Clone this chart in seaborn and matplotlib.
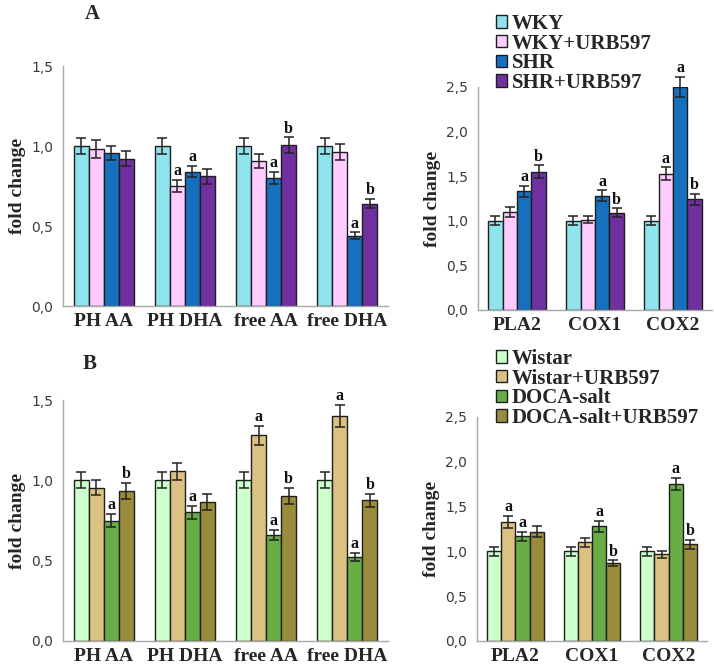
import numpy as np
import pandas as pd
import matplotlib
matplotlib.use("Agg")
import matplotlib.pyplot as plt
import seaborn as sns
from matplotlib.patches import Patch
from matplotlib.ticker import FuncFormatter, FixedLocator

# ---------------- data ----------------
lipid_cats = ["PH AA", "PH DHA", "free AA", "free DHA"]
enzyme_cats = ["PLA2", "COX1", "COX2"]

groups_A = ["WKY", "WKY+URB597", "SHR", "SHR+URB597"]
groups_B = ["Wistar", "Wistar+URB597", "DOCA-salt", "DOCA-salt+URB597"]

colors_A = ["#8EE3EC", "#FFCCFF", "#1670BE", "#7030A0"]
colors_B = ["#CCFFCC", "#DCC282", "#69AD47", "#998D3C"]

# Panel A, lipids (rows = groups, cols = lipid_cats)
A_lip_vals = [[1.00, 1.00, 1.00, 1.00],
              [0.98, 0.75, 0.905, 0.965],
              [0.955, 0.84, 0.80, 0.44],
              [0.92, 0.81, 1.005, 0.64]]
A_lip_errs = [[0.05, 0.05, 0.05, 0.05],
              [0.055, 0.04, 0.045, 0.05],
              [0.045, 0.035, 0.04, 0.02],
              [0.047, 0.045, 0.05, 0.03]]
A_lip_sig = [["", "", "", ""],
             ["", "a", "", ""],
             ["", "a", "a", "a"],
             ["", "", "b", "b"]]

# Panel A, enzymes
A_enz_vals = [[1.00, 1.00, 1.00],
              [1.10, 1.01, 1.53],
              [1.33, 1.28, 2.50],
              [1.55, 1.09, 1.24]]
A_enz_errs = [[0.05, 0.05, 0.05],
              [0.06, 0.04, 0.07],
              [0.06, 0.06, 0.11],
              [0.07, 0.05, 0.06]]
A_enz_sig = [["", "", ""],
             ["", "", "a"],
             ["a", "a", "a"],
             ["b", "b", "b"]]

# Panel B, lipids
B_lip_vals = [[1.00, 1.00, 1.00, 1.00],
              [0.955, 1.055, 1.28, 1.40],
              [0.75, 0.80, 0.66, 0.525],
              [0.935, 0.865, 0.905, 0.875]]
B_lip_errs = [[0.05, 0.05, 0.05, 0.05],
              [0.045, 0.05, 0.06, 0.07],
              [0.04, 0.04, 0.03, 0.025],
              [0.05, 0.05, 0.05, 0.04]]
B_lip_sig = [["", "", "", ""],
             ["", "", "a", "a"],
             ["a", "a", "a", "a"],
             ["b", "", "b", "b"]]

# Panel B, enzymes
B_enz_vals = [[1.00, 1.00, 1.00],
              [1.33, 1.10, 0.97],
              [1.17, 1.28, 1.75],
              [1.22, 0.87, 1.08]]
B_enz_errs = [[0.05, 0.05, 0.05],
              [0.07, 0.05, 0.04],
              [0.05, 0.06, 0.07],
              [0.06, 0.03, 0.05]]
B_enz_sig = [["", "", ""],
             ["a", "", ""],
             ["a", "a", "a"],
             ["", "b", "b"]]

lipid_yticks = [0.0, 0.5, 1.0, 1.5]
enzyme_yticks = [0.0, 0.5, 1.0, 1.5, 2.0, 2.5]

# ---------------- style ----------------
sns.set_style("white")
plt.rcParams["font.family"] = ["DejaVu Sans"]
SERIF = ["Liberation Serif", "DejaVu Serif"]
AXCOL = "#A8A8A8"
EDGE = "#1E1E1E"

W, H = 714, 668
fig = plt.figure(figsize=(W / 100, H / 100), dpi=100)


def rect(x0, x1, ytop, ybot):
    return [x0 / W, 1 - ybot / H, (x1 - x0) / W, (ybot - ytop) / H]


def panel(ax, cats, groups, colors, vals, errs, sig, yticks):
    rows = []
    for g, vrow in zip(groups, vals):
        for c, v in zip(cats, vrow):
            rows.append({"cat": c, "group": g, "value": v})
    df = pd.DataFrame(rows)
    sns.barplot(data=df, x="cat", y="value", hue="group", order=cats,
                hue_order=groups, palette=colors, saturation=1, width=0.74,
                gap=0, edgecolor=EDGE, linewidth=1.0, errorbar=None,
                legend=False, ax=ax, zorder=2)
    for cont, erow, srow, vrow in zip(ax.containers, errs, sig, vals):
        xs = [b.get_x() + b.get_width() / 2 for b in cont]
        eb = ax.errorbar(xs, vrow, yerr=erow, fmt="none", ecolor="#222222",
                         elinewidth=1.1, capsize=3.5, capthick=1.1, zorder=3)
        for art in list(eb.lines[1]) + list(eb.lines[2]):
            art.set_clip_on(False)
        for x, v, e, s in zip(xs, vrow, erow, srow):
            if s:
                ax.annotate(s, (x, v + e), xytext=(0, 0.5),
                            textcoords="offset points", ha="center",
                            va="bottom", fontsize=11.5, fontweight="bold",
                            family=SERIF, color="#111111",
                            annotation_clip=False)
    n = len(cats)
    ax.set_xlim(-0.5, n - 0.5)
    ax.set_ylim(0, yticks[-1])
    ax.set_yticks(yticks)
    ax.yaxis.set_major_formatter(FuncFormatter(lambda v, p: f"{v:.1f}".replace(".", ",")))
    ax.xaxis.set_minor_locator(FixedLocator(np.arange(-0.5, n, 1.0)))
    ax.tick_params(axis="x", which="major", length=0, pad=5)
    ax.tick_params(axis="x", which="minor", length=5, color=AXCOL, width=1)
    ax.tick_params(axis="y", length=4, color=AXCOL, width=1, labelsize=10,
                   labelcolor="#3A3A3A", pad=3)
    for lab in ax.get_xticklabels():
        lab.set_fontfamily(SERIF)
        lab.set_fontweight("bold")
        lab.set_fontsize(14)
    ax.set_xlabel("")
    ax.set_ylabel("fold change", family=SERIF, fontweight="bold", fontsize=14,
                  labelpad=4)
    for sp in ["top", "right"]:
        ax.spines[sp].set_visible(False)
    for sp in ["left", "bottom"]:
        ax.spines[sp].set_color(AXCOL)
        ax.spines[sp].set_linewidth(1)


axA1 = fig.add_axes(rect(63, 388, 66, 306))
axA2 = fig.add_axes(rect(478, 712, 87, 310))
axB1 = fig.add_axes(rect(63, 388, 400, 641))
axB2 = fig.add_axes(rect(477, 707, 417, 641))

panel(axA1, lipid_cats, groups_A, colors_A, A_lip_vals, A_lip_errs, A_lip_sig, lipid_yticks)
panel(axA2, enzyme_cats, groups_A, colors_A, A_enz_vals, A_enz_errs, A_enz_sig, enzyme_yticks)
panel(axB1, lipid_cats, groups_B, colors_B, B_lip_vals, B_lip_errs, B_lip_sig, lipid_yticks)
panel(axB2, enzyme_cats, groups_B, colors_B, B_enz_vals, B_enz_errs, B_enz_sig, enzyme_yticks)

# panel letters
fig.text(92 / W, 1 - 14 / H, "A", family=SERIF, fontweight="bold", fontsize=15,
         ha="center", va="center")
fig.text(90 / W, 1 - 364 / H, "B", family=SERIF, fontweight="bold", fontsize=15,
         ha="center", va="center")


# legends
def legend(groups, colors, x, ytop):
    handles = [Patch(facecolor=c, edgecolor=EDGE, linewidth=1.0) for c in colors]
    fig.legend(handles, groups, loc="upper left",
               bbox_to_anchor=(x / W, 1 - ytop / H), frameon=False,
               prop={"family": SERIF, "weight": "bold", "size": 15},
               handlelength=0.55, handleheight=0.55, handletextpad=0.2,
               labelspacing=-0.02, borderpad=0, borderaxespad=0)


legend(groups_A, colors_A, 496, 14)
legend(groups_B, colors_B, 496, 349)

fig.savefig("out.png", dpi=100)
